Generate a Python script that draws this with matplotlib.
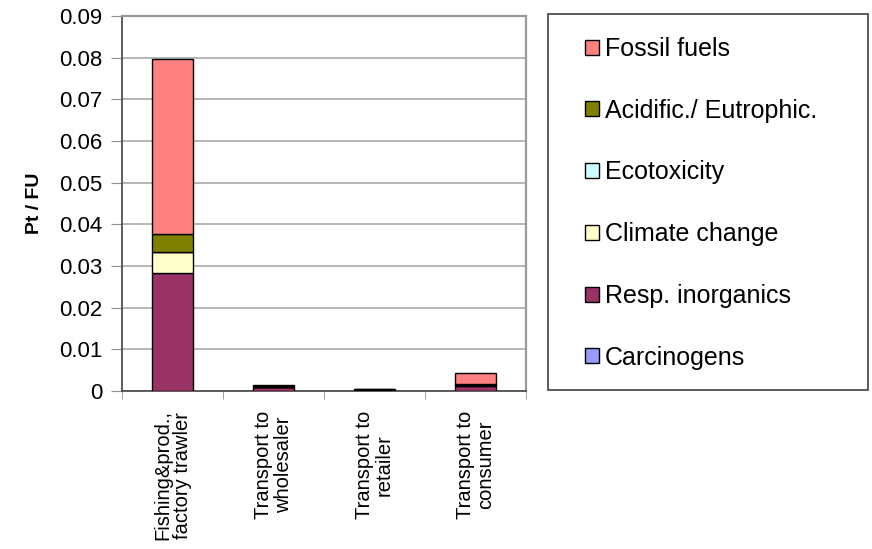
import matplotlib
matplotlib.use('Agg')
import matplotlib.pyplot as plt
from matplotlib.patches import Rectangle
import numpy as np

plt.rcParams['font.family'] = ['Liberation Sans', 'DejaVu Sans']

stages = ['Fishing&prod.,\nfactory trawler', 'Transport to\nwholesaler',
          'Transport to\nretailer', 'Transport to\nconsumer']

# impact categories, bottom of the stack first
categories = ['Carcinogens', 'Resp. inorganics', 'Climate change',
              'Ecotoxicity', 'Acidific./ Eutrophic.', 'Fossil fuels']
colors = ['#9999FF', '#993366', '#FFFFCC', '#CCFFFF', '#808000', '#FF8080']

carcinogens = [0.0001, 0.0, 0.0, 0.0]
resp_inorg  = [0.0283, 0.0009, 0.0003, 0.0012]
climate     = [0.0050, 0.0001, 0.0000, 0.0002]
ecotox      = [0.0000, 0.0000, 0.0000, 0.0000]
acid_eutro  = [0.0044, 0.0001, 0.0001, 0.0003]
fossil      = [0.0419, 0.0004, 0.0001, 0.0027]

values = [carcinogens, resp_inorg, climate, ecotox, acid_eutro, fossil]

W, H = 872, 549
fig = plt.figure(figsize=(W / 100, H / 100), dpi=100)
ax = fig.add_axes([122 / W, 1 - 391 / H, (526 - 122) / W, (391 - 16) / H])

x = np.arange(len(stages))
bottom = np.zeros(len(stages))
handles = []
for name, col, vals in zip(categories, colors, values):
    vals = np.array(vals)
    h = ax.bar(x, vals, bottom=bottom, width=0.4, color=col,
               edgecolor='black', linewidth=1.0, label=name, zorder=3)
    handles.append(h)
    bottom += vals

ax.set_xlim(-0.5, len(stages) - 0.5)
ax.set_ylim(0, 0.09)
ticks = np.arange(0, 0.0901, 0.01)
ax.set_yticks(ticks)
ax.set_yticklabels(['0'] + [f'{v:.2f}' for v in ticks[1:]], fontsize=16)
ax.yaxis.grid(True, color='#b0b0b0', linewidth=1.3, zorder=0)
ax.set_ylabel('Pt / FU', fontsize=14, fontweight='bold', labelpad=12)

ax.set_xticks(x)
ax.set_xticklabels(stages, rotation=90, fontsize=14.5, ha='center',
                   va='top', multialignment='center', linespacing=1.05)
ax.tick_params(axis='x', which='major', length=0, pad=14)
ax.set_xticks(np.arange(-0.5, len(stages), 1.0), minor=True)
ax.tick_params(axis='x', which='minor', length=6, color='#909090')
ax.tick_params(axis='y', length=8, color='#909090', pad=6)

for side in ['top', 'right']:
    ax.spines[side].set_color('#999999')
    ax.spines[side].set_linewidth(1.6)
for side in ['left', 'bottom']:
    ax.spines[side].set_color('#505050')
    ax.spines[side].set_linewidth(1.3)

# legend box to the right of the plot, top entry = top of stack
fig.patches.append(Rectangle((548 / W, 1 - 390 / H), (868 - 548) / W,
                             (390 - 14) / H, transform=fig.transFigure,
                             facecolor='none', edgecolor='#404040',
                             linewidth=1.2))
fig.legend(handles[::-1], categories[::-1], loc='upper left',
           bbox_to_anchor=(585 / W, 1 - 37 / H),
           fontsize=18, frameon=False, handlelength=0.55, handleheight=0.55,
           handletextpad=0.25, labelspacing=1.51, borderpad=0,
           borderaxespad=0)

plt.savefig('out.png', dpi=100)
plt.close()
